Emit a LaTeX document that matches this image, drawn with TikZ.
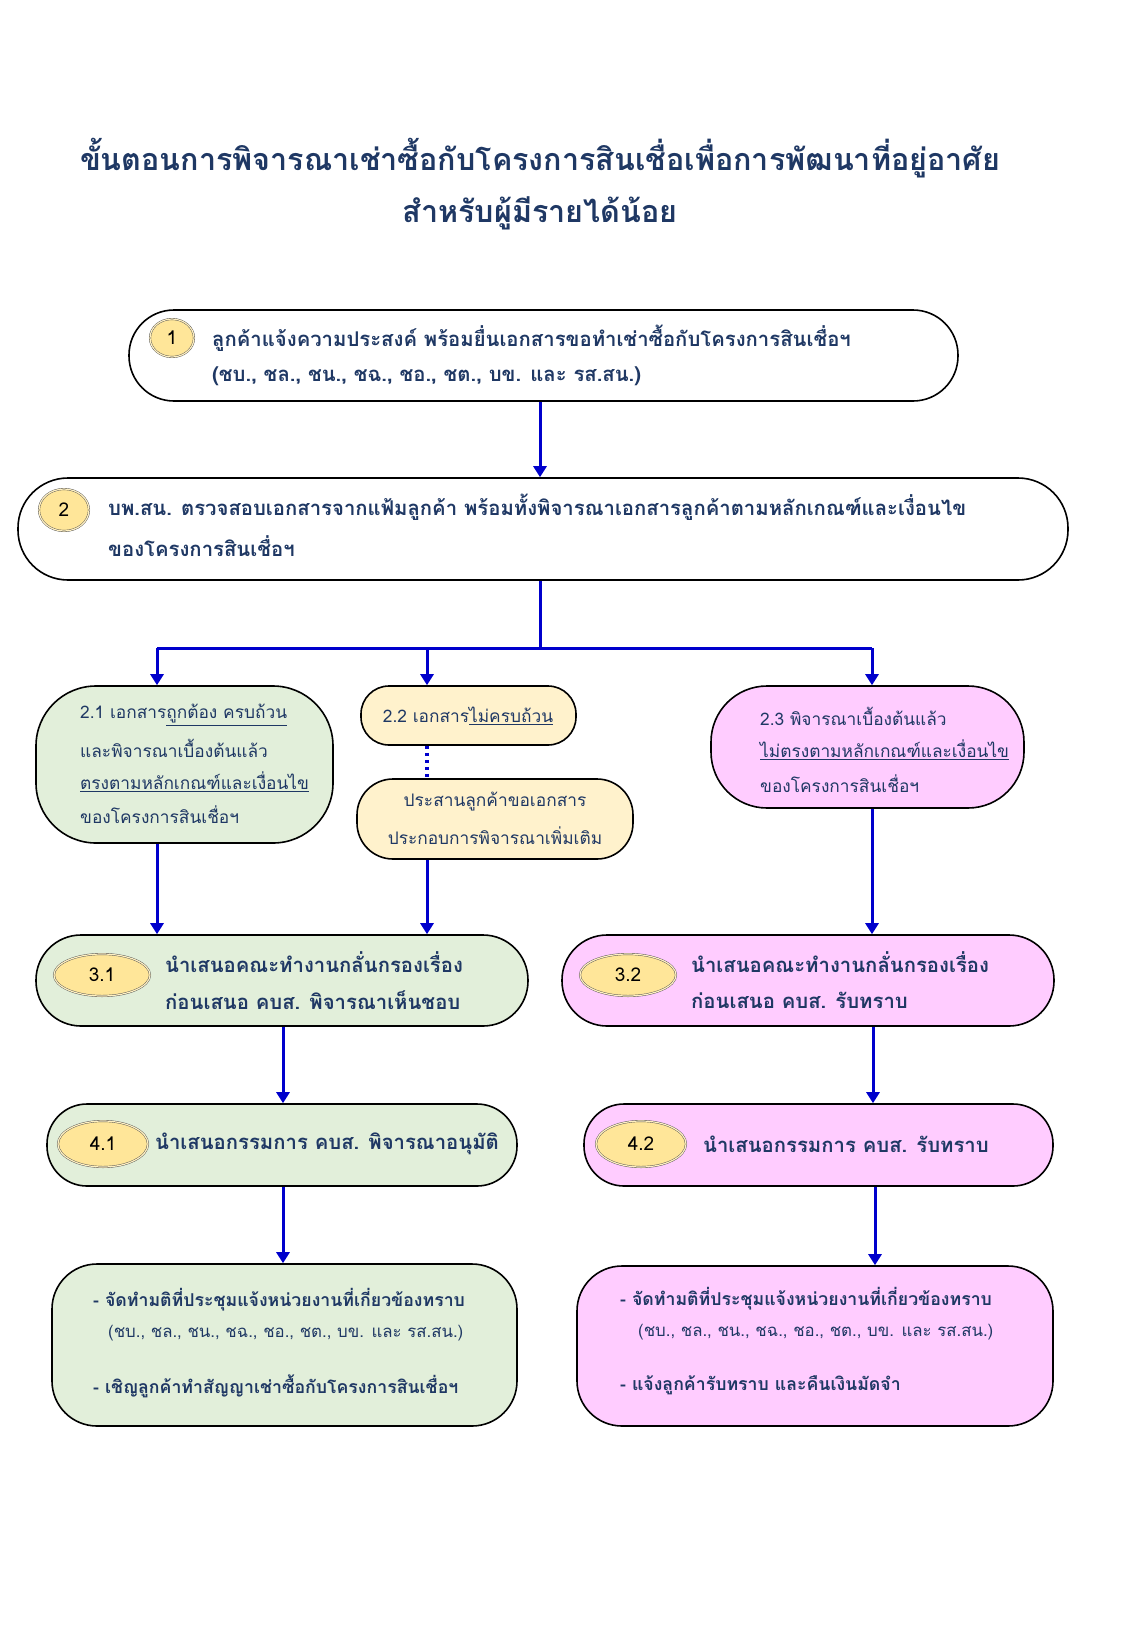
\documentclass[tikz,border=0pt]{standalone}
\usepackage{fontspec}
\setmainfont[Script=Thai]{Loma}
\usetikzlibrary{arrows.meta,shapes.geometric}
\definecolor{navy}{HTML}{1F3864}
\definecolor{gfill}{HTML}{E2EFDA}
\definecolor{yfill}{HTML}{FFF2CC}
\definecolor{pfill}{HTML}{FFCCFF}
\definecolor{ofill}{HTML}{FFE699}
\definecolor{arr}{HTML}{0000CC}
\begin{document}
\begin{tikzpicture}[x=1pt,y=-1pt,
  box/.style={draw=black,line width=1.6pt,minimum width=#1,inner sep=0pt},
  tb/.style={font=\fontsize{20.3}{24}\selectfont\bfseries,text=navy,anchor=west,inner sep=0pt},
  tbs/.style={font=\fontsize{17.7}{22}\selectfont\bfseries,text=navy,anchor=west,inner sep=0pt},
  tl/.style={font=\fontsize{17.3}{20}\selectfont,text=navy,anchor=west,inner sep=0pt},
  tls/.style={font=\fontsize{16.8}{20}\selectfont,text=navy,anchor=west,inner sep=0pt},
  oval/.style={ellipse,draw=black!70,double=ofill!60,double distance=1.2pt,fill=ofill,minimum width=#1,inner sep=0pt,font=\fontsize{19}{22}\selectfont,text=black},
  ar/.style={draw=arr,line width=3pt,-{Triangle[width=13pt,length=11pt]}},
  ln/.style={draw=arr,line width=3pt},
]
\useasboundingbox (0,0) rectangle (1125,1625);
\fill[white] (0,0) rectangle (1125,1625);
% title
\node[font=\fontsize{30.5}{36}\selectfont\bfseries,text=navy,inner sep=0pt] (t1) at (540,158) {ขั้นตอนการพิจารณาเช่าซื้อกับโครงการสินเชื่อเพื่อการพัฒนาที่อยู่อาศัย};
\node[font=\fontsize{30.5}{36}\selectfont\bfseries,text=navy,inner sep=0pt] (t2) at (540,213) {สำหรับผู้มีรายได้น้อย};
\coordinate (cx) at (540,0);
% box 1
\node[box=829pt,minimum height=91pt,rounded corners=45pt,fill=white] (b1) at (543.5,355.5) {};
\node[oval=44pt,minimum height=38pt] (o1) at (172,338) {1};
\node[tb] (x1a) at (212,338) {ลูกค้าแจ้งความประสงค์ พร้อมยื่นเอกสารขอทำเช่าซื้อกับโครงการสินเชื่อฯ};
\node[tb] (x1b) at (212,376) {(ชบ., ชล., ชน., ชฉ., ชอ., ชต., บข. และ รส.สน.)};
% box 2
\node[box=1050pt,minimum height=102pt,rounded corners=50pt,fill=white] (b2) at (543,529) {};
\node[oval=50pt,minimum height=42pt] (o2) at (64,510) {2};
\node[tb] (x2a) at (108,507) {บพ.สน. ตรวจสอบเอกสารจากแฟ้มลูกค้า พร้อมทั้งพิจารณาเอกสารลูกค้าตามหลักเกณฑ์และเงื่อนไข};
\node[tb] (x2b) at (108,546) {ของโครงการสินเชื่อฯ};
\draw[ar] (b1.south -| cx) -- (b2.north -| cx);
% level 2.x
\node[box=297pt,minimum height=157pt,rounded corners=60pt,fill=gfill] (b21) at (184.5,764.5) {};
\node[box=215pt,minimum height=59pt,rounded corners=28pt,fill=yfill] (b22) at (468.5,715.5) {};
\node[box=276pt,minimum height=80pt,rounded corners=36pt,fill=yfill] (b22b) at (495,819) {};
\node[box=313pt,minimum height=122pt,rounded corners=56pt,fill=pfill] (b23) at (867.5,747) {};
\node[tl] (x21a) at (80,715) {2.1 เอกสาร\underline{ถูกต้อง ครบถ้วน}};
\node[tl] (x21b) at (80,748) {และพิจารณาเบื้องต้นแล้ว};
\node[tl] (x21c) at (80,782) {\underline{ตรงตามหลักเกณฑ์และเงื่อนไข}};
\node[tl] (x21d) at (80,815) {ของโครงการสินเชื่อฯ};
\node[tl,anchor=center] (x22) at (468,716) {2.2 เอกสาร\underline{ไม่ครบถ้วน}};
\node[tl,anchor=center] (x22b1) at (495,802) {ประสานลูกค้าขอเอกสาร};
\node[tl,anchor=center] (x22b2) at (495,836) {ประกอบการพิจารณาเพิ่มเติม};
\node[tl] (x23a) at (760,716) {2.3 พิจารณาเบื้องต้นแล้ว};
\node[tl] (x23b) at (760,750) {\underline{ไม่ตรงตามหลักเกณฑ์และเงื่อนไข}};
\node[tl] (x23c) at (760,784) {ของโครงการสินเชื่อฯ};
\coordinate (split) at (540,648);
\coordinate (sl) at (157,648);
\coordinate (sm) at (427,648);
\coordinate (sr) at (872,648);
\draw[ln] (b2.south -| cx) -- (split);
\draw[ln] (sl) -- (sr);
\draw[ar] (sl) -- (sl |- b21.north);
\draw[ar] (sm) -- (sm |- b22.north);
\draw[ar] (sr) -- (sr |- b23.north);
\draw[draw=arr,line width=3.5pt,dash pattern=on 3.5pt off 3.5pt] (sm |- b22.south) -- (sm |- b22b.north);
% level 3
\node[box=492pt,minimum height=91pt,rounded corners=45pt,fill=gfill] (b31) at (282,980.5) {};
\node[box=492pt,minimum height=91pt,rounded corners=45pt,fill=pfill] (b32) at (808,980.5) {};
\node[oval=96pt,minimum height=42pt] (o31) at (102,975) {3.1};
\node[oval=96pt,minimum height=42pt] (o32) at (628,975) {3.2};
\node[tb] (x31a) at (165,962) {นำเสนอคณะทำงานกลั่นกรองเรื่อง};
\node[tb] (x31b) at (165,1000) {ก่อนเสนอ คบส. พิจารณาเห็นชอบ};
\node[tb] (x32a) at (691,962) {นำเสนอคณะทำงานกลั่นกรองเรื่อง};
\node[tb] (x32b) at (691,1000) {ก่อนเสนอ คบส. รับทราบ};
\draw[ar] (sl |- b21.south) -- (sl |- b31.north);
\draw[ar] (sm |- b22b.south) -- (sm |- b31.north);
\draw[ar] (sr |- b23.south) -- (sr |- b32.north);
% level 4
\node[box=470pt,minimum height=82pt,rounded corners=40pt,fill=gfill] (b41) at (282,1145) {};
\node[box=469pt,minimum height=82pt,rounded corners=40pt,fill=pfill] (b42) at (818.5,1145) {};
\node[oval=90pt,minimum height=46pt] (o41) at (103,1144) {4.1};
\node[oval=90pt,minimum height=46pt] (o42) at (641,1144) {4.2};
\node[tb] (x41) at (155,1144) {นำเสนอกรรมการ คบส. พิจารณาอนุมัติ};
\node[tb] (x42) at (703,1144) {นำเสนอกรรมการ คบส. รับทราบ};
\coordinate (lx) at (283,0);
\coordinate (rx) at (873,0);
\coordinate (rx2) at (875,0);
\draw[ar] (b31.south -| lx) -- (b41.north -| lx);
\draw[ar] (b32.south -| rx) -- (b42.north -| rx);
% level 5
\node[box=465pt,minimum height=162pt,rounded corners=45pt,fill=gfill] (b51) at (284.5,1345) {};
\node[box=476pt,minimum height=160pt,rounded corners=45pt,fill=pfill] (b52) at (815,1346) {};
\node[tbs] (x51a) at (93,1300) {- จัดทำมติที่ประชุมแจ้งหน่วยงานที่เกี่ยวข้องทราบ};
\node[tls] (x51b) at (108,1333) {(ชบ., ชล., ชน., ชฉ., ชอ., ชต., บข. และ รส.สน.)};
\node[tbs] (x51c) at (93,1386) {- เชิญลูกค้าทำสัญญาเช่าซื้อกับโครงการสินเชื่อฯ};
\node[tbs] (x52a) at (620,1299) {- จัดทำมติที่ประชุมแจ้งหน่วยงานที่เกี่ยวข้องทราบ};
\node[tls] (x52b) at (638,1332) {(ชบ., ชล., ชน., ชฉ., ชอ., ชต., บข. และ รส.สน.)};
\node[tbs] (x52c) at (620,1385) {- แจ้งลูกค้ารับทราบ และคืนเงินมัดจำ};
\draw[ar] (b41.south -| lx) -- (b51.north -| lx);
\draw[ar] (b42.south -| rx2) -- (b52.north -| rx2);
\end{tikzpicture}
\end{document}
